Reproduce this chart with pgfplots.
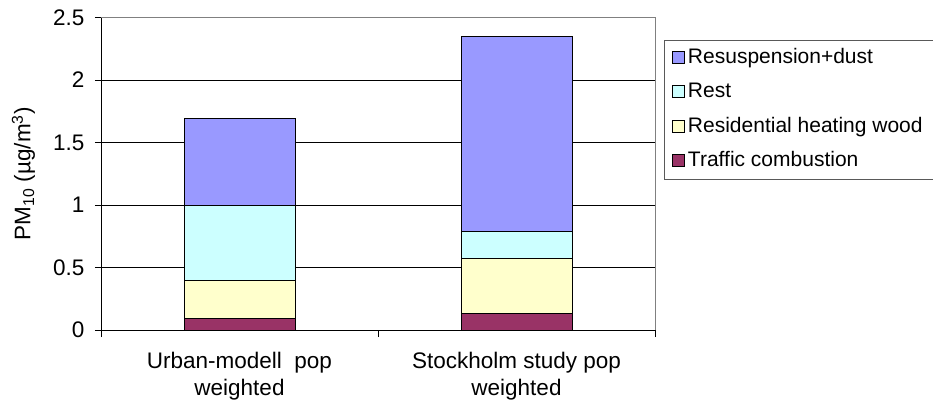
\documentclass[border=0pt]{standalone}
\usepackage{pgfplots}
\pgfplotsset{compat=1.18}
\usepackage{fontspec}
\setmainfont{Liberation Sans}
\definecolor{cresusp}{HTML}{9999FF}
\definecolor{crest}{HTML}{CCFFFF}
\definecolor{cheat}{HTML}{FFFFCC}
\definecolor{ctraffic}{HTML}{993366}
\begin{document}
\begin{tikzpicture}
\begin{axis}[
  at={(101pt,77pt)}, anchor=south west,
  scale only axis, width=554pt, height=312.5pt,
  ybar stacked, bar width=0.4,
  xmin=-0.5, xmax=1.5, ymin=0, ymax=2.5,
  xtick={0,1},
  xticklabels={{Urban-modell\ \ pop\\weighted},{Stockholm study pop\\weighted}},
  minor xtick={-0.5,0.5,1.5},
  ytick={0,0.5,1,1.5,2,2.5},
  yticklabels={0,0.5,1,1.5,2,2.5},
  /pgf/number format/assume math mode=true,
  axis x line*=bottom, axis y line*=left,
  axis line style={-, black, line width=0.8pt},
  tick align=outside,
  major tick length=6pt, minor tick length=7pt,
  major x tick style={draw=none},
  minor x tick style={black, line width=0.8pt},
  major y tick style={black, line width=0.8pt},
  ymajorgrids, major grid style={black, line width=0.6pt},
  tick label style={font=\fontsize{22.5}{27}\selectfont},
  yticklabel style={xshift=-7pt},
  xticklabel style={align=center, font=\fontsize{22.5}{27}\selectfont, yshift=-13pt},
  ylabel={PM\textsubscript{10} (µg/m\textsuperscript{3})},
  ylabel style={at={(axis description cs:-0.14,0.5)}, anchor=center, font=\fontsize{22.5}{27}\selectfont},
  reverse legend,
  legend cell align=left,
  legend style={at={(axis description cs:1.0162,0.928)}, anchor=north west,
    draw=gray!70!black, line width=0.8pt,
    font=\fontsize{21}{25}\selectfont,
    inner xsep=7.5pt, inner ysep=6pt, row sep=11pt,
    nodes={inner ysep=2pt, inner xsep=3.5pt, text height=15pt, text depth=4.5pt}},
  legend image code/.code={\draw[#1, draw=black, line width=0.6pt] (0pt,-5pt) rectangle (12pt,7pt);},
  after end axis/.code={\draw[gray, line width=0.8pt] (rel axis cs:0,1) -- (rel axis cs:1,1) -- (rel axis cs:1,0);},
]
\addplot[fill=ctraffic, draw=black, line width=0.8pt] coordinates {(0,0.095) (1,0.136)};
\addplot[fill=cheat, draw=black, line width=0.8pt] coordinates {(0,0.30) (1,0.437)};
\addplot[fill=crest, draw=black, line width=0.8pt] coordinates {(0,0.60) (1,0.213)};
\addplot[fill=cresusp, draw=black, line width=0.8pt] coordinates {(0,0.70) (1,1.56)};
\legend{Traffic combustion, Residential heating wood, Rest, Resuspension+dust}
\end{axis}
\pgfresetboundingbox
\path[use as bounding box] (0,0) rectangle (933pt,407pt);
\end{tikzpicture}
\end{document}
